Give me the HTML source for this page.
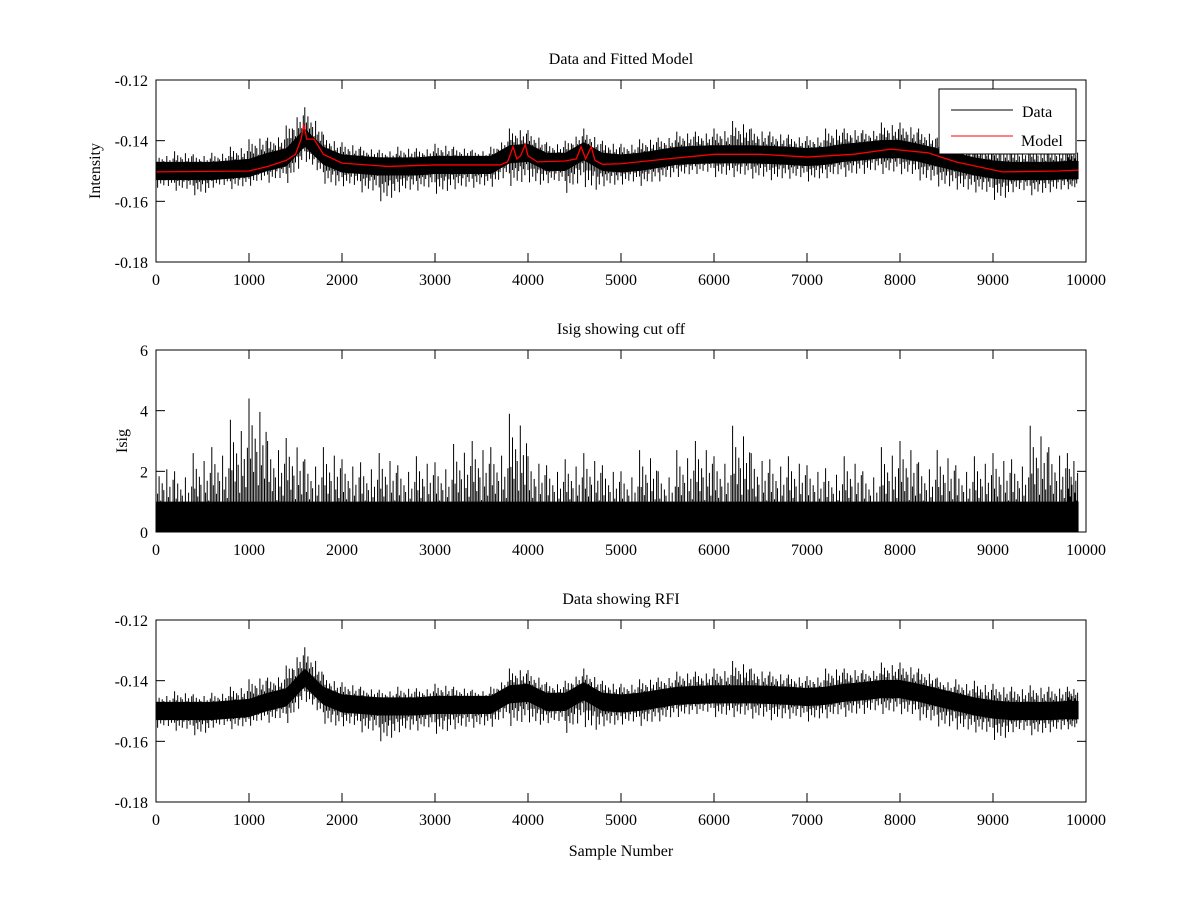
<!DOCTYPE html>
<html><head><meta charset="utf-8"><style>
body{margin:0;background:#fff}
svg text{font-family:"Liberation Serif",serif;font-size:16px;fill:#000}
</style></head><body>
<svg id="fig" width="1200" height="900" viewBox="0 0 1200 900" xmlns="http://www.w3.org/2000/svg"></svg>
<script>
const binX=[0,200,400,600,800,1000,1200,1400,1600,1800,2000,2200,2400,2600,2800,3000,3200,3400,3600,3800,4000,4200,4400,4600,4800,5000,5200,5400,5600,5800,6000,6200,6400,6600,6800,7000,7200,7400,7600,7800,8000,8200,8400,8600,8800,9000,9200,9400,9600,9800,9920];
const dataMean=[-0.150,-0.150,-0.150,-0.150,-0.1495,-0.149,-0.147,-0.1455,-0.139,-0.145,-0.1475,-0.148,-0.1485,-0.1485,-0.1485,-0.148,-0.148,-0.148,-0.148,-0.1445,-0.144,-0.147,-0.147,-0.1435,-0.147,-0.1475,-0.147,-0.146,-0.145,-0.1447,-0.1445,-0.1445,-0.1445,-0.1447,-0.145,-0.1454,-0.145,-0.144,-0.1435,-0.1428,-0.1428,-0.144,-0.1455,-0.147,-0.1485,-0.1495,-0.150,-0.150,-0.150,-0.1497,-0.1497];
const dataHi=[-0.1445,-0.1435,-0.1445,-0.144,-0.142,-0.1395,-0.139,-0.135,-0.129,-0.138,-0.1405,-0.142,-0.143,-0.142,-0.1425,-0.141,-0.142,-0.143,-0.142,-0.136,-0.1365,-0.1405,-0.140,-0.136,-0.140,-0.141,-0.1395,-0.139,-0.137,-0.137,-0.136,-0.1335,-0.136,-0.137,-0.138,-0.1385,-0.136,-0.136,-0.1365,-0.134,-0.134,-0.136,-0.139,-0.1395,-0.140,-0.141,-0.142,-0.1415,-0.142,-0.142,-0.1445];
const dataLo=[-0.1555,-0.1565,-0.158,-0.1555,-0.156,-0.155,-0.154,-0.1545,-0.1465,-0.154,-0.155,-0.157,-0.160,-0.157,-0.1565,-0.1575,-0.156,-0.1555,-0.1555,-0.155,-0.1535,-0.154,-0.1575,-0.155,-0.155,-0.1545,-0.155,-0.1535,-0.152,-0.151,-0.152,-0.152,-0.1525,-0.153,-0.1525,-0.1535,-0.1525,-0.152,-0.151,-0.151,-0.151,-0.153,-0.155,-0.156,-0.157,-0.1595,-0.157,-0.158,-0.157,-0.156,-0.155];
const modelX=[0,1000,1200,1400,1500,1560,1590,1620,1700,1800,2000,2500,3000,3700,3780,3840,3880,3920,3970,4000,4100,4400,4520,4570,4620,4680,4720,4800,5000,5500,6000,6500,7000,7500,7900,8300,8600,9100,9700,9920];
const modelY=[-0.1503,-0.1500,-0.1485,-0.1465,-0.1445,-0.1395,-0.1345,-0.1395,-0.1395,-0.1445,-0.1474,-0.1485,-0.1480,-0.1480,-0.1470,-0.1420,-0.1460,-0.1450,-0.1413,-0.1450,-0.1470,-0.1467,-0.1460,-0.1420,-0.1460,-0.1420,-0.1465,-0.1478,-0.1476,-0.1460,-0.1445,-0.1445,-0.1454,-0.1445,-0.1428,-0.1440,-0.1470,-0.1503,-0.1500,-0.1497];
const isigHi=[2.3,2.0,2.6,2.8,3.7,4.4,3.0,3.1,2.4,2.8,2.4,2.3,2.6,2.2,2.5,2.3,2.9,3.0,2.8,3.9,2.5,2.2,2.4,2.6,2.2,2.0,2.7,2.0,2.7,3.0,2.5,3.5,2.6,2.4,2.5,2.2,2.1,2.5,2.0,2.8,3.0,2.3,2.7,2.2,2.5,2.6,2.4,3.5,2.8,2.6,2.3];
const xTicks=[0,1000,2000,3000,4000,5000,6000,7000,8000,9000,10000];
const intTicks=[-0.12,-0.14,-0.16,-0.18];
const isigTicks=[0,2,4,6];

const NS="http://www.w3.org/2000/svg",svg=document.getElementById('fig');
function el(t,a,p){const e=document.createElementNS(NS,t);for(const k in a)e.setAttribute(k,a[k]);(p||svg).appendChild(e);return e;}
const X0=156,X1=1086;
const sx=v=>X0+(v/10000)*(X1-X0);
const hiPat=[1,0.55,0.8,0.45,0.7,0.6,0.35,0.9,0.5,0.65,0.4,0.75];
const loPat=[0.6,1,0.5,0.75,0.45,0.85,0.55,0.4,0.9,0.5,0.7,0.35];
function panel(top,ymin,ymax,ticks,fmt,name){
  const bot=top+182;const sy=v=>bot-(v-ymin)/(ymax-ymin)*182;
  const g=el('g',{});
  return {g,sy,top,bot,ticks,fmt};
}
function axes(p){
  const r=el('rect',{x:X0,y:p.top,width:X1-X0,height:182,fill:'none',stroke:'#000','stroke-width':1},p.g);
  
  xTicks.forEach(t=>{const x=sx(t);
    el('line',{x1:x,x2:x,y1:p.bot,y2:p.bot-9,stroke:'#000'},p.g);
    el('line',{x1:x,x2:x,y1:p.top,y2:p.top+9,stroke:'#000'},p.g);
    const tx=el('text',{x:x,y:p.bot+23,'text-anchor':'middle'},p.g);tx.textContent=t;
    });
  p.ticks.forEach(t=>{const y=p.sy(t);
    el('line',{x1:X0,x2:X0+9,y1:y,y2:y,stroke:'#000'},p.g);
    el('line',{x1:X1,x2:X1-9,y1:y,y2:y,stroke:'#000'},p.g);
    const tx=el('text',{x:X0-8,y:y+6,'text-anchor':'end'},p.g);tx.textContent=p.fmt(t);
    });
}
function dataSeries(p){
  const sy=p.sy;let up='',dn='';
  binX.forEach((x,i)=>{up+=(i?'L':'M')+sx(x)+','+sy(dataMean[i]+0.003);});
  for(let i=binX.length-1;i>=0;i--)dn+='L'+sx(binX[i])+','+sy(dataMean[i]-0.003);
  const b=el('path',{d:up+dn+'Z',fill:'#000'},p.g);
  
  let d='';
  for(let i=0;i<binX.length-1;i++){
    const n=12;
    for(let k=0;k<n;k++){
      const f=k/n, x=binX[i]+(binX[i+1]-binX[i])*f;
      const m=dataMean[i]+(dataMean[i+1]-dataMean[i])*f;
      const hi=m+(dataHi[i]-dataMean[i])*hiPat[k], lo=m+(dataLo[i]-dataMean[i])*loPat[k];
      d+='M'+sx(x).toFixed(1)+','+sy(hi).toFixed(1)+'V'+sy(lo).toFixed(1);
    }
  }
  const s=el('path',{d,stroke:'#000','stroke-width':1,fill:'none'},p.g);
  
}
// top
const p1=panel(80,-0.18,-0.12,intTicks,t=>t.toFixed(2),'intensity-model-panel');
dataSeries(p1);
let md='';modelX.forEach((x,i)=>{md+=(i?'L':'M')+sx(x)+','+p1.sy(modelY[i]);});
const ml=el('path',{d:md,stroke:'#f00','stroke-width':1.3,fill:'none'},p1.g);

axes(p1);
const lg=el('g',{},p1.g);
el('rect',{x:939,y:89,width:137,height:65,fill:'#fff',stroke:'#000'},lg);
el('line',{x1:951,x2:1013,y1:110,y2:110,stroke:'#000'},lg);
el('line',{x1:951,x2:1013,y1:136,y2:136,stroke:'#f00'},lg);
let t=el('text',{x:1022,y:117},lg);t.textContent='Data';
t=el('text',{x:1021,y:146},lg);t.textContent='Model';
t=el('text',{x:621,y:64,'text-anchor':'middle'});t.textContent='Data and Fitted Model';
t=el('text',{x:0,y:0,'text-anchor':'middle',transform:'translate(100,171) rotate(-90)'});t.textContent='Intensity';
// middle
const p2=panel(350,0,6,isigTicks,t=>String(t),'isig-panel');
{const sy=p2.sy;let up='';
 binX.forEach((x,i)=>{up+=(i?'L':'M')+sx(x)+','+sy(1.0);});
 up+='L'+sx(9920)+','+sy(0)+'L'+sx(0)+','+sy(0)+'Z';
 const b=el('path',{d:up,fill:'#000'},p2.g);
 let d='';
 for(let i=0;i<binX.length-1;i++){for(let k=0;k<12;k++){const x=binX[i]+(binX[i+1]-binX[i])*k/12;
   d+='M'+sx(x).toFixed(1)+','+sy(0)+'V'+sy(isigHi[i]*hiPat[k]).toFixed(1);}}
 const s=el('path',{d,stroke:'#000','stroke-width':1,fill:'none'},p2.g);}
axes(p2);
t=el('text',{x:621,y:334,'text-anchor':'middle'});t.textContent='Isig showing cut off';
t=el('text',{x:0,y:0,'text-anchor':'middle',transform:'translate(127,441) rotate(-90)'});t.textContent='Isig';
// bottom
const p3=panel(620,-0.18,-0.12,intTicks,t=>t.toFixed(2),'rfi-panel');
dataSeries(p3);axes(p3);
t=el('text',{x:621,y:604,'text-anchor':'middle'});t.textContent='Data showing RFI';
t=el('text',{x:621,y:856,'text-anchor':'middle'});t.textContent='Sample Number';
</script>
</body></html>
